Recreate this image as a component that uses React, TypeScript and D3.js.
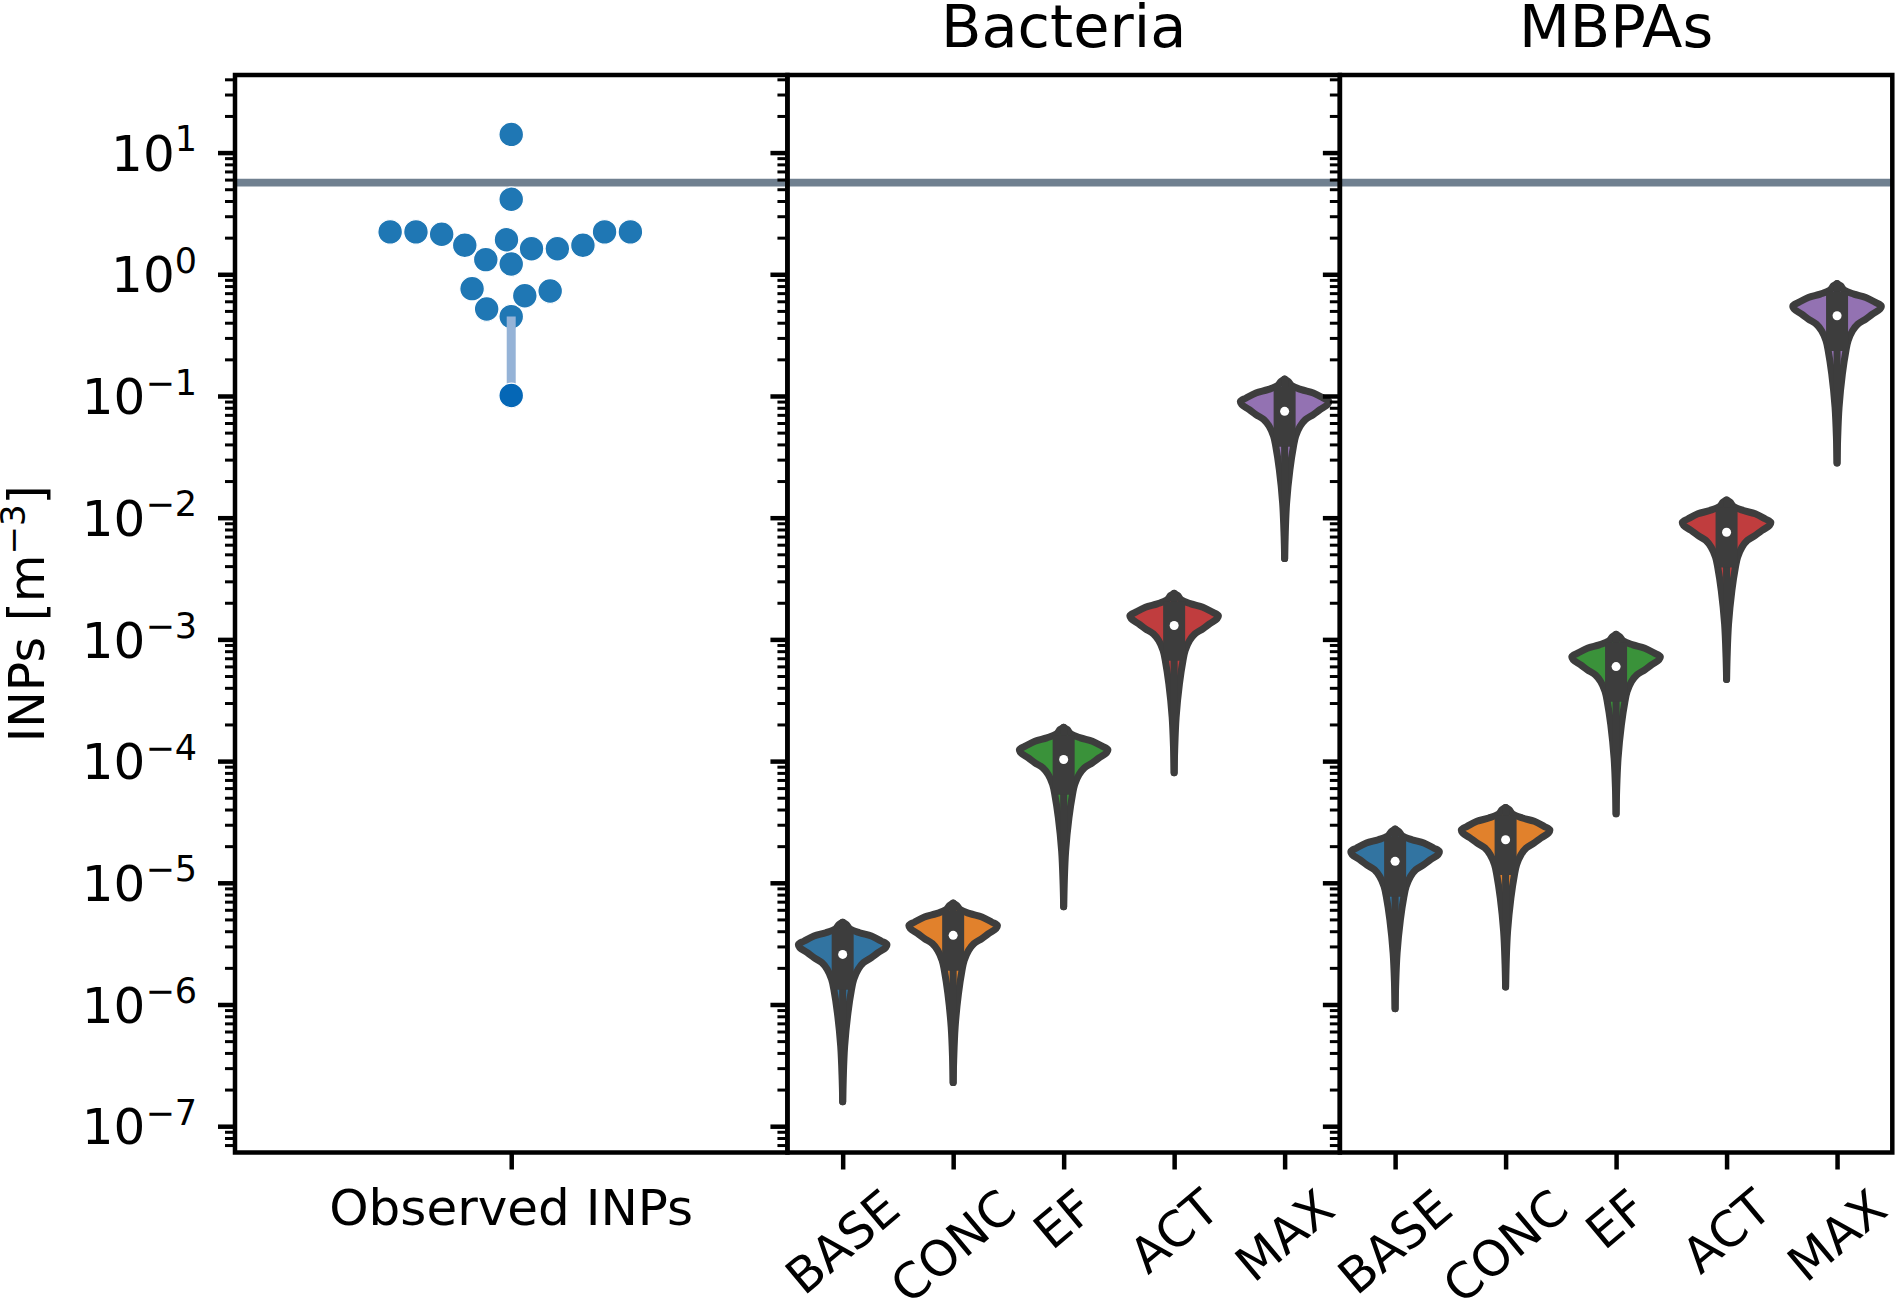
import * as d3 from "d3";
import React, { useEffect, useRef } from "react";

// panel headers and categories
const panelTitles = ["", "Bacteria", "MBPAs"];
const observedCategory = ["Observed INPs"];
const scenarios = ["BASE", "CONC", "EF", "ACT", "MAX"];

// median INP concentration of each simulated scenario [m-3]
const bacteriaMedians = [2.58e-6, 3.7e-6, 1.03e-4, 1.3e-3, 0.0748];
const mbpaMedians = [1.5e-5, 2.26e-5, 5.98e-4, 7.6e-3, 0.456];
const violinColors = ["#3274a1", "#e1812c", "#3a923a", "#c03d3e", "#9372b2"];

// violin outline shared by all scenarios: offset from median (decades) and relative half width
const profileOffsets = [0.265, 0.247, 0.211, 0.178, 0.151, 0.11, 0.082, 0.055, 0.014, -0.027, -0.068, -0.123, -0.205, -0.288, -0.479, -0.753, -1.027, -1.21];
const profileWidths = [0, 0.08, 0.16, 0.38, 0.65, 0.87, 1.0, 0.97, 0.8, 0.65, 0.47, 0.35, 0.25, 0.2, 0.12, 0.045, 0.012, 0];
const boxOffsets = [-0.29, 0.2]; // q1, q3 relative to median (decades)

// observations
const observedINPs = [14.1, 4.13, 2.23, 2.23, 2.13, 1.73, 1.32, 1.92, 1.215, 1.62, 1.62, 1.73, 2.23, 2.23, 0.762, 0.519, 0.449, 0.667, 0.729];
const lowestINP = [0.101, 0.45]; // point, top of its bar
const referenceINP = 5.67;

const yDomain = [6.08e-8, 43.4];
const yTickExponents = [1, 0, -1, -2, -3, -4, -5, -6, -7];

const W = 1897;
const H = 1303;
const marginLeft = 235;
const marginRight = 1892.3;
const marginTop = 75;
const marginBottom = 1152.5;
const fontFamily = "DejaVu Sans";
const tickFont = 50;
const rotFont = 49;
const rotAngle = 40;
const dark = "#3d3d3d";

// seaborn-like beeswarm: place each point (sorted by value) at the free spot closest to the centre
function swarm(ys: number[], r: number): number[] {
  const d = 2 * r;
  const order = d3.range(ys.length).sort((a, b) => ys[b] - ys[a]);
  const placed: { x: number; y: number }[] = [];
  const out = new Array(ys.length).fill(0);
  for (const i of order) {
    const yi = ys[i];
    const nbs: { x: number; y: number }[] = [];
    for (let k = placed.length - 1; k >= 0; k--) {
      if (Math.abs(yi - placed[k].y) < d) nbs.push(placed[k]);
      else break;
    }
    const cands = [0];
    nbs.forEach(nb => {
      const dy = yi - nb.y;
      const dx = Math.sqrt(Math.max(d * d - dy * dy, 0)) * 1.05;
      cands.push(nb.x - dx, nb.x + dx);
    });
    const sorted = cands
      .map((c, idx) => ({ c, idx }))
      .sort((a, b) => Math.abs(a.c) - Math.abs(b.c) || a.idx - b.idx)
      .map(o => o.c);
    const x = sorted.find(c => nbs.every(nb => (c - nb.x) ** 2 + (yi - nb.y) ** 2 >= d * d - 1e-6)) ?? 0;
    placed.push({ x, y: yi });
    out[i] = x;
  }
  return out;
}

const App: React.FC = () => {
  const ref = useRef<SVGSVGElement>(null);

  useEffect(() => {
    const svg = d3.select(ref.current);
    svg.selectAll("*").remove();

    const pw = (marginRight - marginLeft) / 3;
    const y = d3.scaleLog().domain(yDomain).range([marginBottom, marginTop]);

    const panels = [0, 1, 2].map(i => {
      const x0 = marginLeft + i * pw;
      const x1 = x0 + pw;
      const cats = i === 0 ? observedCategory : scenarios;
      const x = d3.scalePoint<string>().domain(cats).range([x0, x1]).padding(0.5);
      return { i, x0, x1, x, cats };
    });

    // reference level
    panels.forEach(p => {
      svg.append("line")
        .attr("x1", p.x0).attr("x2", p.x1)
        .attr("y1", y(referenceINP)).attr("y2", y(referenceINP))
        .attr("stroke", "#708090").attr("stroke-width", 7.7);
    });

    // observations as a swarm
    const p0 = panels[0];
    const cx0 = p0.x(observedCategory[0])!;
    const r = 12.3;
    const ys = observedINPs.map(v => y(v));
    const offs = swarm(ys, r);
    svg.append("g")
      .selectAll("circle")
      .data(observedINPs)
      .join("circle")
      .attr("cx", (_, k) => cx0 + offs[k])
      .attr("cy", d => y(d))
      .attr("r", r)
      .attr("fill", "#1f77b4")
      .attr("stroke", "#ffffff")
      .attr("stroke-width", 1.2);

    svg.append("line")
      .attr("x1", cx0).attr("x2", cx0)
      .attr("y1", y(lowestINP[1])).attr("y2", y(lowestINP[0]))
      .attr("stroke", "#95b3d7").attr("stroke-width", 9);
    svg.append("circle")
      .attr("cx", cx0).attr("cy", y(lowestINP[0])).attr("r", r)
      .attr("fill", "#0567b6").attr("stroke", "#ffffff").attr("stroke-width", 1.2);

    // violins
    const drawViolins = (p: typeof panels[0], medians: number[]) => {
      const half = 0.4 * p.x.step();
      const g = svg.append("g");
      medians.forEach((m, k) => {
        const cx = p.x(scenarios[k])!;
        const pts = profileOffsets.map((o, j) => ({ yv: y(m * 10 ** o), w: profileWidths[j] * half }));
        const area = d3.area<{ yv: number; w: number }>()
          .x0(d => cx - d.w)
          .x1(d => cx + d.w)
          .y(d => d.yv)
          .curve(d3.curveCatmullRom);
        g.append("path")
          .attr("d", area(pts)!)
          .attr("fill", violinColors[k])
          .attr("stroke", dark)
          .attr("stroke-width", 7)
          .attr("stroke-linejoin", "round");
        g.append("line")
          .attr("x1", cx).attr("x2", cx)
          .attr("y1", y(m * 10 ** profileOffsets[0]))
          .attr("y2", y(m * 10 ** profileOffsets[profileOffsets.length - 1]))
          .attr("stroke", dark).attr("stroke-width", 7).attr("stroke-linecap", "round");
        g.append("line")
          .attr("x1", cx).attr("x2", cx)
          .attr("y1", y(m * 10 ** boxOffsets[0]))
          .attr("y2", y(m * 10 ** boxOffsets[1]))
          .attr("stroke", dark).attr("stroke-width", 22);
        g.append("circle")
          .attr("cx", cx).attr("cy", y(m)).attr("r", 4.5)
          .attr("fill", "#ffffff");
      });
    };
    drawViolins(panels[1], bacteriaMedians);
    drawViolins(panels[2], mbpaMedians);

    // spines and ticks
    const majors = yTickExponents.map(e => 10 ** e);
    const minors: number[] = [];
    for (let e = -8; e <= 1; e++) {
      for (let k = 2; k <= 9; k++) {
        const v = k * 10 ** e;
        if (v >= yDomain[0] && v <= yDomain[1]) minors.push(v);
      }
    }

    panels.forEach(p => {
      svg.append("g")
        .attr("transform", `translate(${p.x0},0)`)
        .call(d3.axisLeft(y).tickValues(minors).tickSize(10).tickSizeOuter(0).tickFormat(() => ""))
        .call(g => g.select(".domain").remove())
        .call(g => g.selectAll("line").attr("stroke", "#000").attr("stroke-width", 3));
      svg.append("g")
        .attr("transform", `translate(${p.x0},0)`)
        .call(d3.axisLeft(y).tickValues(majors).tickSize(17).tickSizeOuter(0).tickFormat(() => ""))
        .call(g => g.select(".domain").remove())
        .call(g => g.selectAll("line").attr("stroke", "#000").attr("stroke-width", 4.5));
      svg.append("g")
        .attr("transform", `translate(0,${marginBottom})`)
        .call(d3.axisBottom(p.x).tickSize(17).tickSizeOuter(0).tickFormat(() => ""))
        .call(g => g.select(".domain").remove())
        .call(g => g.selectAll("line").attr("stroke", "#000").attr("stroke-width", 4.5));

      svg.append("rect")
        .attr("x", p.x0).attr("y", marginTop)
        .attr("width", pw).attr("height", marginBottom - marginTop)
        .attr("fill", "none").attr("stroke", "#000").attr("stroke-width", 4.5);

      if (panelTitles[p.i]) {
        svg.append("text")
          .attr("x", (p.x0 + p.x1) / 2).attr("y", 47)
          .attr("text-anchor", "middle")
          .attr("font-size", 59)
          .text(panelTitles[p.i]);
      }
    });

    // y tick labels (first panel only)
    yTickExponents.forEach(e => {
      const t = svg.append("text")
        .attr("x", 197)
        .attr("y", y(10 ** e) + 0.364 * tickFont)
        .attr("text-anchor", "end")
        .attr("font-size", tickFont);
      t.append("tspan").text("10");
      t.append("tspan")
        .attr("font-size", tickFont * 0.7)
        .attr("dy", -0.39 * tickFont)
        .text(e < 0 ? `\u2212${-e}` : `${e}`);
    });

    // x tick labels
    const labelTop = marginBottom + 17 + 9;
    svg.append("text")
      .attr("x", cx0)
      .attr("y", labelTop + 0.928 * tickFont)
      .attr("text-anchor", "middle")
      .attr("font-size", tickFont)
      .text(observedCategory[0]);

    const rad = (rotAngle * Math.PI) / 180;
    [panels[1], panels[2]].forEach(p => {
      scenarios.forEach(s => {
        const t = svg.append("text")
          .attr("text-anchor", "middle")
          .attr("font-size", rotFont)
          .attr("y", 0.346 * rotFont)
          .text(s);
        const len = (t.node() as SVGTextElement).getComputedTextLength();
        const boxH = len * Math.sin(rad) + 1.164 * rotFont * Math.cos(rad);
        t.attr("transform", `translate(${p.x(s)},${labelTop + boxH / 2}) rotate(${-rotAngle})`);
      });
    });

    // y label
    const yl = svg.append("text")
      .attr("transform", `translate(44,${(marginTop + marginBottom) / 2}) rotate(-90)`)
      .attr("text-anchor", "middle")
      .attr("font-size", 49);
    yl.append("tspan").text("INPs [m");
    yl.append("tspan").attr("font-size", 34).attr("dy", -19).text("\u22123");
    yl.append("tspan").attr("dy", 19).text("]");

    return () => {
      svg.selectAll("*").remove();
    };
  }, []);

  return (
    <svg
      ref={ref}
      width={W}
      height={H}
      viewBox={`0 0 ${W} ${H}`}
      style={{ position: "absolute", left: 0, top: 0, background: "#fff" }}
      fontFamily={fontFamily}
    />
  );
};

export default App;
